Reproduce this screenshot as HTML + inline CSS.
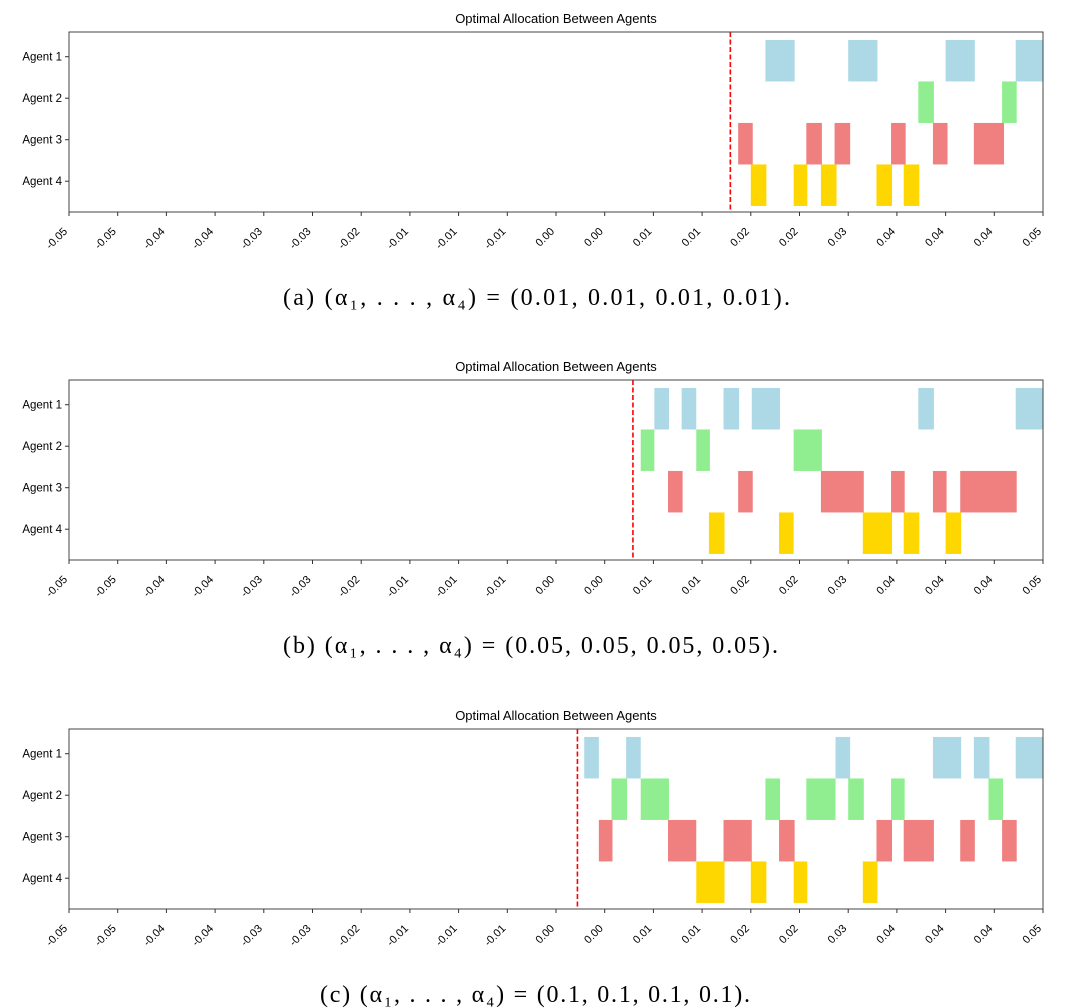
<!DOCTYPE html>
<html><head><meta charset="utf-8"><style>
html,body{margin:0;padding:0;background:#fff;width:1065px;height:1008px;overflow:hidden}
svg{display:block}
.cap{font-family:"Liberation Serif",serif;font-size:24px;fill:#000}
</style></head><body>
<svg id="chart" width="1065" height="1008" viewBox="0 0 1065 1008" xmlns="http://www.w3.org/2000/svg"></svg>
<script>
const agents = ["Agent 1","Agent 2","Agent 3","Agent 4"];
const tickValues = [-0.05,-0.045,-0.04,-0.035,-0.03,-0.025,-0.02,-0.015,-0.01,-0.005,0,0.005,0.01,0.015,0.02,0.025,0.03,0.035,0.04,0.045,0.05];
const tickLabels = ["-0.05","-0.05","-0.04","-0.04","-0.03","-0.03","-0.02","-0.01","-0.01","-0.01","0.00","0.00","0.01","0.01","0.02","0.02","0.03","0.04","0.04","0.04","0.05"];
const colors = ["#add8e6","#90ee90","#f08080","#ffd700"];
const barsA = [
 [[0.0215,0.0245],[0.0300,0.0330],[0.0400,0.0430],[0.0472,0.0500]],
 [[0.0372,0.0388],[0.0458,0.0473]],
 [[0.0187,0.0202],[0.0257,0.0273],[0.0286,0.0302],[0.0344,0.0359],[0.0387,0.0402],[0.0429,0.0460]],
 [[0.0200,0.0216],[0.0244,0.0258],[0.0272,0.0288],[0.0329,0.0345],[0.0357,0.0373]]
];
const barsB = [
 [[0.0101,0.0116],[0.0129,0.0144],[0.0172,0.0188],[0.0201,0.0230],[0.0372,0.0388],[0.0472,0.0500]],
 [[0.0087,0.0101],[0.0144,0.0158],[0.0244,0.0273]],
 [[0.0115,0.0130],[0.0187,0.0202],[0.0272,0.0316],[0.0344,0.0358],[0.0387,0.0401],[0.0415,0.0473]],
 [[0.0157,0.0173],[0.0229,0.0244],[0.0315,0.0345],[0.0357,0.0373],[0.0400,0.0416]]
];
const barsC = [
 [[0.0029,0.0044],[0.0072,0.0087],[0.0287,0.0302],[0.0387,0.0416],[0.0429,0.0445],[0.0472,0.0500]],
 [[0.0057,0.0073],[0.0087,0.0116],[0.0215,0.0230],[0.0257,0.0287],[0.0300,0.0316],[0.0344,0.0358],[0.0444,0.0459]],
 [[0.0044,0.0058],[0.0115,0.0144],[0.0172,0.0201],[0.0229,0.0245],[0.0329,0.0345],[0.0357,0.0388],[0.0415,0.0430],[0.0458,0.0473]],
 [[0.0144,0.0173],[0.0200,0.0216],[0.0244,0.0258],[0.0315,0.0330]]
];
const thresholds = [0.0179, 0.0079, 0.0022];
const captions = ["(a) (α₁, . . . , α₄) = (0.01, 0.01, 0.01, 0.01).","(b) (α₁, . . . , α₄) = (0.05, 0.05, 0.05, 0.05).","(c) (α₁, . . . , α₄) = (0.1, 0.1, 0.1, 0.1)."];
const allBars = [barsA, barsB, barsC];

const NS = "http://www.w3.org/2000/svg";
const svg = document.getElementById("chart");
function mk(tag, attrs, parent){const e=document.createElementNS(NS,tag);for(const k in attrs)e.setAttribute(k,attrs[k]);(parent||svg).appendChild(e);return e;}
const X0=69, X1=1043;
const xScale = v => X0 + (v+0.05)/0.1*(X1-X0);
const tops = [32, 380, 729];
const capX = [283, 283, 320];
const capW = [507, 495, 430];
const H = 180, rowH = 41.5;
const yScale = (i, top) => top + 28.7 + i*rowH;

allBars.forEach((bars, p) => {
  const top = tops[p];
  const g = mk("g", {});
  
  
  const t = mk("text",{x:556,y:top-9,"text-anchor":"middle","font-family":"Liberation Sans, sans-serif","font-size":"13"},g);
  t.textContent = "Optimal Allocation Between Agents";
  
  
  bars.forEach((list, a) => {
    list.forEach(([s,e]) => {
      const r = mk("rect",{x:xScale(s),y:yScale(a,top)-rowH/2,width:xScale(e)-xScale(s),height:rowH,fill:colors[a]},g);
      
      
    });
    const yl = mk("text",{x:62,y:yScale(a,top)-3,"text-anchor":"end","font-family":"Liberation Sans, sans-serif","font-size":"11.5","dominant-baseline":"middle"},g);
    yl.textContent = agents[a];
    
    
    mk("line",{x1:X0-4,x2:X0,y1:yScale(a,top)-4,y2:yScale(a,top)-4,stroke:"#333"},g);
  });
  const tx = xScale(thresholds[p]);
  const th = mk("line",{x1:tx,x2:tx,y1:top,y2:top+H,stroke:"#ff0000","stroke-width":"1.6","stroke-dasharray":"5,2.5"},g);
  
  
  const fr = mk("rect",{x:X0,y:top,width:X1-X0,height:H,fill:"none",stroke:"#444","stroke-width":"1"},g);
  
  
  tickValues.forEach((v,i) => {
    const x = xScale(v);
    mk("line",{x1:x,x2:x,y1:top+H,y2:top+H+4,stroke:"#333"},g);
    const ax = x - 1, ay = top + H + 20;
    const tl = mk("text",{x:ax,y:ay,"text-anchor":"end","font-family":"Liberation Sans, sans-serif","font-size":"11",transform:`rotate(-45 ${ax} ${ay})`},g);
    tl.textContent = tickLabels[i];
    
    
  });
  const c = mk("text",{x:capX[p],y:top+H+93,class:"cap",textLength:capW[p],lengthAdjust:"spacing"},g);
  c.textContent = captions[p];
  
  
});
</script>
</body></html>
